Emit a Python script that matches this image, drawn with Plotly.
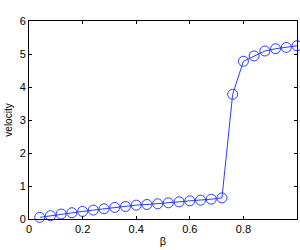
import plotly.graph_objects as go

beta = [0.04, 0.08, 0.12, 0.16, 0.20, 0.24, 0.28, 0.32, 0.36, 0.40, 0.44, 0.48,
        0.52, 0.56, 0.60, 0.64, 0.68, 0.72, 0.76, 0.80, 0.84, 0.88, 0.92, 0.96, 1.00]
velocity = [0.05, 0.10, 0.15, 0.19, 0.23, 0.27, 0.31, 0.35, 0.38, 0.42, 0.44, 0.46,
            0.49, 0.52, 0.55, 0.57, 0.60, 0.64, 3.78, 4.78, 4.94, 5.09, 5.16, 5.20, 5.25]
x_ticks = [0, 0.2, 0.4, 0.6, 0.8, 1]
x_labels = ["0", "0.2", "0.4", "0.6", "0.8", "1"]
y_ticks = [0, 1, 2, 3, 4, 5, 6]

fig = go.Figure(go.Scatter(
    x=beta, y=velocity, mode="lines+markers", cliponaxis=False,
    line=dict(color="#2a3cff", width=1),
    marker=dict(symbol="circle-open", size=10, color="#2a3cff", line=dict(width=1)),
))

axis_common = dict(
    showline=True, linecolor="black", linewidth=1, mirror="ticks",
    ticks="inside", ticklen=3, tickcolor="black", showgrid=False, zeroline=False,
    tickfont=dict(family="Liberation Sans, Arial", size=11, color="black"),
)
fig.update_xaxes(range=[0, 1], tickvals=x_ticks, ticktext=x_labels,
                 title=dict(text="β", font=dict(family="Liberation Sans, Arial", size=11, color="black"), standoff=3),
                 **axis_common)
fig.update_yaxes(range=[0, 6], tickvals=y_ticks,
                 title=dict(text="velocity", font=dict(family="Liberation Sans, Arial", size=10, color="black"), standoff=5),
                 **axis_common)
fig.update_layout(width=300, height=250, margin=dict(l=29, r=3, t=21, b=31),
                  plot_bgcolor="white", paper_bgcolor="white", showlegend=False)
fig.write_html("out.html", config={"displayModeBar": False},
               post_script="document.body.style.margin='0';document.body.style.padding='0';")
